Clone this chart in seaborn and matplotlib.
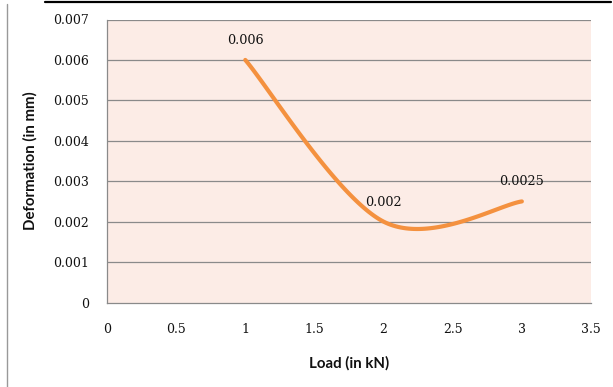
import numpy as np
import pandas as pd
import matplotlib
matplotlib.use("Agg")
import matplotlib.pyplot as plt
from matplotlib.lines import Line2D
import seaborn as sns

# Measured deformation under increasing load
load_kn = [1, 2, 3]
deformation_mm = [0.006, 0.002, 0.0025]
point_labels = ["0.006", "0.002", "0.0025"]

x_ticks = [0, 0.5, 1, 1.5, 2, 2.5, 3, 3.5]
x_tick_labels = ["0", "0.5", "1", "1.5", "2", "2.5", "3", "3.5"]
y_ticks = [0, 0.001, 0.002, 0.003, 0.004, 0.005, 0.006, 0.007]
y_tick_labels = ["0", "0.001", "0.002", "0.003", "0.004", "0.005", "0.006", "0.007"]


def smooth_curve(xs, ys, n=60):
    """Spreadsheet-style smoothed line: cubic Bezier segments whose control
    points follow the neighbouring points (Catmull-Rom, factor 1/6)."""
    pts = np.column_stack([xs, ys]).astype(float)
    out = []
    for i in range(len(pts) - 1):
        p_prev = pts[max(i - 1, 0)]
        p0, p1 = pts[i], pts[i + 1]
        p_next = pts[min(i + 2, len(pts) - 1)]
        c1 = p0 + (p1 - p_prev) / 6.0
        c2 = p1 - (p_next - p0) / 6.0
        t = np.linspace(0, 1, n)[:, None]
        seg = ((1 - t) ** 3) * p0 + 3 * ((1 - t) ** 2) * t * c1 \
            + 3 * (1 - t) * t ** 2 * c2 + t ** 3 * p1
        out.append(seg if i == 0 else seg[1:])
    return np.vstack(out)


curve = smooth_curve(load_kn, deformation_mm)
curve_df = pd.DataFrame({"Load": curve[:, 0], "Deformation": curve[:, 1]})

sns.set_style("white")
plt.rcParams["font.family"] = ["DejaVu Serif"]

fig = plt.figure(figsize=(6.13, 3.87), dpi=100)
ax = fig.add_axes([107 / 613, 1 - 302.5 / 387, (591 - 107) / 613, (302.5 - 19.5) / 387])
ax.set_facecolor("#fcece6")

grid_col = "#8a8a8a"
for yv in y_ticks[1:]:
    ax.axhline(yv, color=grid_col, lw=0.9, zorder=1)

sns.lineplot(data=curve_df, x="Load", y="Deformation", sort=False, ax=ax,
             color="#f4913f", lw=3.0, solid_capstyle="round", zorder=3)

for xv, yv, lab in zip(load_kn, deformation_mm, point_labels):
    ax.annotate(lab, (xv, yv), xytext=(0, 14), textcoords="offset points",
                ha="center", va="center", fontsize=9.2, color="#111111", zorder=4)

ax.set_xlim(0, 3.5)
ax.set_ylim(0, 0.007)
ax.set_xticks(x_ticks)
ax.set_xticklabels(x_tick_labels)
ax.set_yticks(y_ticks)
ax.set_yticklabels(y_tick_labels)
ax.tick_params(axis="both", direction="out", length=4, width=0.9, color=grid_col,
               labelsize=9, labelcolor="#111111")
ax.tick_params(axis="x", pad=11)
ax.tick_params(axis="y", pad=9)

for side in ["top", "right"]:
    ax.spines[side].set_visible(False)
for side in ["left", "bottom"]:
    ax.spines[side].set_color(grid_col)
    ax.spines[side].set_linewidth(0.9)

label_font = dict(family=["Lato", "DejaVu Sans"], fontweight="bold", fontsize=10.8, color="#111111")
ax.set_xlabel("Load (in kN)", labelpad=14, **label_font)
ax.set_ylabel("Deformation (in mm)", labelpad=11, **label_font)

# Outer frame pieces
fig.add_artist(Line2D([45 / 613, 611 / 613], [1 - 1.5 / 387, 1 - 1.5 / 387],
                      transform=fig.transFigure, color="black", lw=1.6))
fig.add_artist(Line2D([6.5 / 613, 6.5 / 613], [0, 1 - 4 / 387],
                      transform=fig.transFigure, color="#999999", lw=1.0))

fig.savefig("out.png", dpi=100)
